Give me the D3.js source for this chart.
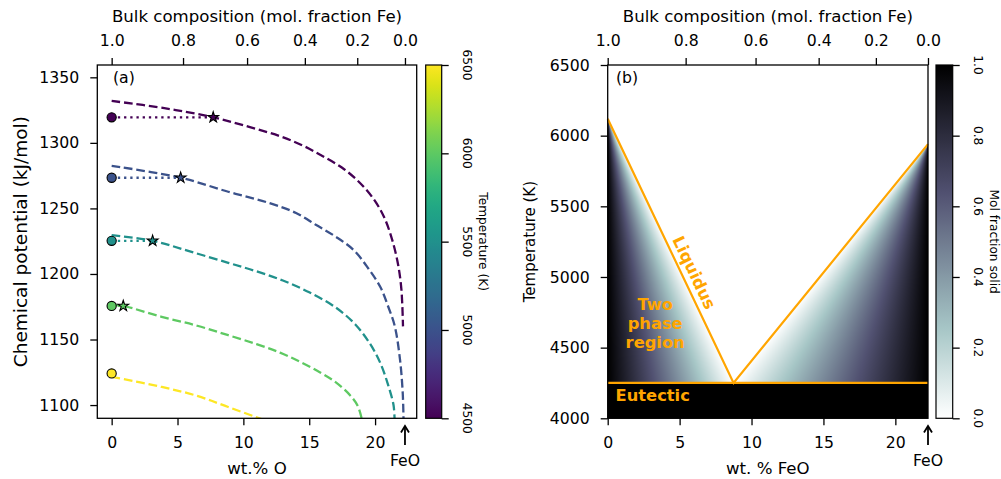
<!DOCTYPE html>
<html><head><meta charset="utf-8">
<script src="https://cdn.jsdelivr.net/npm/d3@7"></script>
<style>body{margin:0;background:#fff}svg{display:block;font-family:"DejaVu Sans",sans-serif}</style>
</head><body>
<svg id="c" width="1001" height="479"></svg>
<script>
// ---------------- data ----------------
const curveTemps = [4500, 5000, 5500, 6000, 6500];
const wtO_4500 = [0, 4, 7.71, 10.5, 12.8, 14.5, 16.0, 17.5, 18.8, 19.9, 20.7, 21.3, 21.75, 22.0, 22.12];
const mu_4500  = [1332, 1326.5, 1319.5, 1312, 1305, 1298, 1290, 1281, 1270, 1257, 1243, 1226, 1207, 1188, 1160];
const wtO_5000 = [0, 5.24, 8.85, 12.0, 14.0, 15.5, 17.0, 18.4, 19.5, 20.4, 21.0, 21.5, 21.9, 22.1, 22.16];
const mu_5000  = [1282.5, 1273.4, 1262.7, 1254, 1246.5, 1237.5, 1228.5, 1218, 1204, 1190, 1175, 1160, 1134, 1109, 1089];
const wtO_5500 = [0, 3.11, 6, 8.85, 11, 13, 15, 17, 18.5, 19.6, 20.4, 21.0, 21.4, 21.48];
const mu_5500  = [1229.6, 1225.3, 1217, 1208.5, 1202, 1195, 1186, 1174.5, 1161.5, 1147, 1132, 1115, 1100, 1089];
const wtO_6000 = [0, 0.88, 3.8, 6.5, 8.85, 11, 12.78, 14.3, 15.8, 17.0, 18.1, 18.7, 19.0];
const mu_6000  = [1176.5, 1175.6, 1167.3, 1160.5, 1153.3, 1146.5, 1140, 1133, 1125, 1117.5, 1107.5, 1099, 1089];
const wtO_6500 = [0, 3.8, 6.5, 8.85, 11.6];
const mu_6500  = [1121.5, 1113.8, 1107, 1098.5, 1088.5];
const startMu  = [1319.5, 1273.4, 1225.3, 1175.6, 1124.1];   // pure Fe (circles)
const starWtO  = [7.71, 5.24, 3.11, 0.88, null];
const starMu   = [1319.5, 1273.4, 1225.3, 1175.6, null];

const liquidusWt = [0, 8.75, 22.27];
const liquidusT  = [6120, 4250, 5940];
const eutecticT  = 4250;
const feoWt = 22.27;

const leftXTicks  = [0, 5, 10, 15, 20];
const leftYTicks  = [1100, 1150, 1200, 1250, 1300, 1350];
const topTicks    = [1.0, 0.8, 0.6, 0.4, 0.2, 0.0];
const rightXTicks = [0, 5, 10, 15, 20];
const rightYTicks = [4000, 4500, 5000, 5500, 6000, 6500];
const tempCbTicks = [4500, 5000, 5500, 6000, 6500];
const fracCbTicks = [0.0, 0.2, 0.4, 0.6, 0.8, 1.0];

// ---------------- helpers ----------------
const M_FE = 55.845, M_O = 15.999;
const wtOfromFe = f => 100 * (1 - f) * M_O / (f * M_FE + (1 - f) * (M_FE + M_O));
const tColor = d3.scaleSequential(d3.interpolateViridis).domain([4500, 6500]);
const boneR = d3.scaleLinear().domain([0, 0.746032, 1]).range([0, 0.652778, 1]);
const boneG = d3.scaleLinear().domain([0, 0.365079, 0.746032, 1]).range([0, 0.319444, 0.777778, 1]);
const boneB = d3.scaleLinear().domain([0, 0.365079, 1]).range([0, 0.444444, 1]);
const boneRev = f => [boneR(1 - f) * 255, boneG(1 - f) * 255, boneB(1 - f) * 255];

const svg = d3.select('#c');
const defs = svg.append('defs');
const TICK = 15.7, LAB = 16.6;

function styleAxis(g, fs) {
  g.select('.domain').remove();
  g.selectAll('.tick line').attr('stroke', '#000').attr('stroke-width', 1.3);
  g.selectAll('.tick text').attr('fill', '#000').style('font-size', fs + 'px')
    .style('font-family', '"DejaVu Sans", sans-serif');
}

// ================= LEFT PANEL =================
const L = {x0: 97.3, x1: 416.7, y0: 65, y1: 418.3};
const xA = d3.scaleLinear().domain([-1.09, 23.16]).range([L.x0, L.x1]);
const yA = d3.scaleLinear().domain([1089.9, 1359.4]).range([L.y1, L.y0]);

defs.append('clipPath').attr('id', 'clipA').append('rect')
  .attr('x', L.x0).attr('y', L.y0).attr('width', L.x1 - L.x0).attr('height', L.y1 - L.y0);

const gA = svg.append('g').attr('clip-path', 'url(#clipA)');
const curveWt = [wtO_4500, wtO_5000, wtO_5500, wtO_6000, wtO_6500];
const curveMu = [mu_4500, mu_5000, mu_5500, mu_6000, mu_6500];
const lineA = d3.line().x(d => xA(d[0])).y(d => yA(d[1]));
const smoothA = d3.line().x(d => xA(d[0])).y(d => yA(d[1])).curve(d3.curveCatmullRom.alpha(0.5));

curveTemps.forEach((T, k) => {
  const pts = curveWt[k].map((x, i) => [x, curveMu[k][i]]);
  gA.append('path').attr('d', smoothA(pts))
    .attr('fill', 'none').attr('stroke', tColor(T)).attr('stroke-width', 2.3)
    .attr('stroke-dasharray', '8.7,3.8');
});
curveTemps.forEach((T, k) => {
  if (starWtO[k] == null) return;
  gA.append('path').attr('d', lineA([[0, startMu[k]], [starWtO[k], starMu[k]]]))
    .attr('fill', 'none').attr('stroke', tColor(T)).attr('stroke-width', 2.3)
    .attr('stroke-dasharray', '2.3,3.9');
});
curveTemps.forEach((T, k) => {
  gA.append('circle').attr('cx', xA(0)).attr('cy', yA(startMu[k])).attr('r', 4.6)
    .attr('fill', tColor(T)).attr('stroke', '#000').attr('stroke-width', 1.1);
  if (starWtO[k] != null) {
    gA.append('path').attr('d', d3.symbol(d3.symbolStar, 36)())
      .attr('transform', `translate(${xA(starWtO[k])},${yA(starMu[k])})`)
      .attr('fill', tColor(T)).attr('stroke', '#000').attr('stroke-width', 1.1);
  }
});

svg.append('rect').attr('x', L.x0).attr('y', L.y0).attr('width', L.x1 - L.x0).attr('height', L.y1 - L.y0)
  .attr('fill', 'none').attr('stroke', '#000').attr('stroke-width', 1.3);

styleAxis(svg.append('g').attr('transform', `translate(0,${L.y1})`)
  .call(d3.axisBottom(xA).tickValues(leftXTicks).tickSize(7).tickPadding(12).tickFormat(d3.format('d'))), TICK);
styleAxis(svg.append('g').attr('transform', `translate(${L.x0},0)`)
  .call(d3.axisLeft(yA).tickValues(leftYTicks).tickSize(7).tickPadding(11).tickFormat(d3.format('d'))), TICK);
styleAxis(svg.append('g').attr('transform', `translate(0,${L.y0})`)
  .call(d3.axisTop(xA).tickValues(topTicks.map(wtOfromFe)).tickSize(7).tickPadding(12)
    .tickFormat((d, i) => topTicks[i].toFixed(1))), TICK);

svg.append('text').attr('x', (L.x0 + L.x1) / 2).attr('y', 16).attr('text-anchor', 'middle')
  .attr('dominant-baseline', 'central').style('font-size', LAB + 'px').text('Bulk composition (mol. fraction Fe)');
svg.append('text').attr('x', (L.x0 + L.x1) / 2).attr('y', 468).attr('text-anchor', 'middle')
  .attr('dominant-baseline', 'central').style('font-size', LAB + 'px').text('wt.% O');
svg.append('text').attr('transform', `translate(20,${(L.y0 + L.y1) / 2}) rotate(-90)`).attr('text-anchor', 'middle')
  .attr('dominant-baseline', 'central').style('font-size', '18.5px').text('Chemical potential (kJ/mol)');
svg.append('text').attr('x', 113).attr('y', 77.5).attr('dominant-baseline', 'central')
  .style('font-size', TICK + 'px').text('(a)');

function feoArrow(x) {
  svg.append('line').attr('x1', x).attr('x2', x).attr('y1', 445).attr('y2', 427)
    .attr('stroke', '#000').attr('stroke-width', 1.8);
  svg.append('path').attr('d', `M${x - 4},${432.5}L${x},${426}L${x + 4},${432.5}`)
    .attr('fill', 'none').attr('stroke', '#000').attr('stroke-width', 1.8);
  svg.append('text').attr('x', x).attr('y', 460.5).attr('text-anchor', 'middle')
    .attr('dominant-baseline', 'central').style('font-size', TICK + 'px').text('FeO');
}
feoArrow(xA(feoWt));

function colorbar(x0, x1, id, colorFn, ticks, dom, label) {
  const grad = defs.append('linearGradient').attr('id', id).attr('x1', 0).attr('y1', 1).attr('x2', 0).attr('y2', 0);
  d3.range(0, 1.0001, 0.02).forEach(t => grad.append('stop').attr('offset', t).attr('stop-color', colorFn(t)));
  svg.append('rect').attr('x', x0).attr('y', L.y0).attr('width', x1 - x0).attr('height', L.y1 - L.y0)
    .attr('fill', `url(#${id})`).attr('stroke', '#000').attr('stroke-width', 1.2);
  const s = d3.scaleLinear().domain(dom).range([L.y1, L.y0]);
  const g = svg.append('g').attr('transform', `translate(${x1},0)`)
    .call(d3.axisRight(s).tickValues(ticks).tickSize(7).tickFormat(''));
  styleAxis(g, 12);
  ticks.forEach(t => {
    svg.append('text').attr('transform', `translate(${x1 + 25.5},${s(t)}) rotate(90)`)
      .attr('text-anchor', 'middle').attr('dominant-baseline', 'central').style('font-size', '12.2px')
      .text(dom[1] > 10 ? d3.format('d')(t) : t.toFixed(1));
  });
  svg.append('text').attr('transform', `translate(${x1 + 41},${(L.y0 + L.y1) / 2}) rotate(90)`)
    .attr('text-anchor', 'middle').attr('dominant-baseline', 'central').style('font-size', '12.2px').text(label);
}
colorbar(425.7, 441.7, 'gradT', t => d3.interpolateViridis(t), tempCbTicks, [4500, 6500], 'Temperature (K)');

// ================= RIGHT PANEL =================
const R = {x0: 607.7, x1: 928.0, y0: 65, y1: 418.3};
const xB = d3.scaleLinear().domain([0, feoWt]).range([R.x0, R.x1]);
const yB = d3.scaleLinear().domain([4000, 6500]).range([R.y1, R.y0]);

const leftBranch  = d3.scaleLinear().domain([liquidusT[0], liquidusT[1]]).range([liquidusWt[0], liquidusWt[1]]);
const rightBranch = d3.scaleLinear().domain([liquidusT[1], liquidusT[2]]).range([liquidusWt[1], liquidusWt[2]]);
function fracSolid(wt, T) {
  if (T < eutecticT) return 1;
  if (wt <= liquidusWt[1]) {
    const xl = leftBranch(T);
    if (xl <= 0 || wt >= xl) return 0;
    return (xl - wt) / xl;
  } else {
    const xr = rightBranch(T);
    if (xr >= feoWt || wt <= xr) return 0;
    return (wt - xr) / (feoWt - xr);
  }
}
const cw = Math.round(R.x1 - R.x0), ch = Math.round(R.y1 - R.y0);
const canvas = document.createElement('canvas'); canvas.width = cw; canvas.height = ch;
const ctx = canvas.getContext('2d'); const img = ctx.createImageData(cw, ch);
for (let j = 0; j < ch; j++) {
  const T = yB.invert(R.y0 + (j + 0.5) * (R.y1 - R.y0) / ch);
  for (let i = 0; i < cw; i++) {
    const wt = xB.invert(R.x0 + (i + 0.5) * (R.x1 - R.x0) / cw);
    const c = boneRev(fracSolid(wt, T));
    const o = 4 * (j * cw + i);
    img.data[o] = c[0]; img.data[o + 1] = c[1]; img.data[o + 2] = c[2]; img.data[o + 3] = 255;
  }
}
ctx.putImageData(img, 0, 0);
svg.append('image').attr('href', canvas.toDataURL()).attr('x', R.x0).attr('y', R.y0)
  .attr('width', R.x1 - R.x0).attr('height', R.y1 - R.y0).attr('preserveAspectRatio', 'none');

const ORANGE = '#ffa500';
svg.append('path').attr('d', d3.line().x(d => xB(d[0])).y(d => yB(d[1]))(liquidusWt.map((w, i) => [w, liquidusT[i]])))
  .attr('fill', 'none').attr('stroke', ORANGE).attr('stroke-width', 2.2);
svg.append('path').attr('d', d3.line().x(d => xB(d[0])).y(d => yB(d[1]))([[0, eutecticT], [feoWt, eutecticT]]))
  .attr('fill', 'none').attr('stroke', ORANGE).attr('stroke-width', 2.2);

const ang = Math.atan2(yB(liquidusT[1]) - yB(liquidusT[0]), xB(liquidusWt[1]) - xB(liquidusWt[0])) * 180 / Math.PI;
svg.append('text').attr('transform', `translate(${xB(6.0)},${yB(5030)}) rotate(${ang})`)
  .attr('text-anchor', 'middle').attr('dominant-baseline', 'central')
  .style('font-size', '16.5px').style('font-weight', 'bold').attr('fill', ORANGE).text('Liquidus');
const tp = svg.append('text').attr('text-anchor', 'middle').style('font-size', '16.3px')
  .style('font-weight', 'bold').attr('fill', ORANGE);
['Two', 'phase', 'region'].forEach((s, i) => {
  tp.append('tspan').attr('x', xB(3.3)).attr('y', yB(4670) + (i - 1) * 18.7).attr('dominant-baseline', 'central').text(s);
});
svg.append('text').attr('x', xB(0.55)).attr('y', yB(4160)).attr('dominant-baseline', 'central')
  .style('font-size', '16.3px').style('font-weight', 'bold').attr('fill', ORANGE).text('Eutectic');

svg.append('rect').attr('x', R.x0).attr('y', R.y0).attr('width', R.x1 - R.x0).attr('height', R.y1 - R.y0)
  .attr('fill', 'none').attr('stroke', '#000').attr('stroke-width', 1.3);

styleAxis(svg.append('g').attr('transform', `translate(0,${R.y1})`)
  .call(d3.axisBottom(xB).tickValues(rightXTicks).tickSize(7).tickPadding(12).tickFormat(d3.format('d'))), TICK);
styleAxis(svg.append('g').attr('transform', `translate(${R.x0},0)`)
  .call(d3.axisLeft(yB).tickValues(rightYTicks).tickSize(7).tickPadding(11).tickFormat(d3.format('d'))), TICK);
styleAxis(svg.append('g').attr('transform', `translate(0,${R.y0})`)
  .call(d3.axisTop(xB).tickValues(topTicks.map(wtOfromFe)).tickSize(7).tickPadding(12)
    .tickFormat((d, i) => topTicks[i].toFixed(1))), TICK);

svg.append('text').attr('x', (R.x0 + R.x1) / 2).attr('y', 16).attr('text-anchor', 'middle')
  .attr('dominant-baseline', 'central').style('font-size', LAB + 'px').text('Bulk composition (mol. fraction Fe)');
svg.append('text').attr('x', (R.x0 + R.x1) / 2).attr('y', 468).attr('text-anchor', 'middle')
  .attr('dominant-baseline', 'central').style('font-size', LAB + 'px').text('wt. % FeO');
svg.append('text').attr('transform', `translate(530,${(R.y0 + R.y1) / 2}) rotate(-90)`).attr('text-anchor', 'middle')
  .attr('dominant-baseline', 'central').style('font-size', '15px').text('Temperature (K)');
svg.append('text').attr('x', 616).attr('y', 77.5).attr('dominant-baseline', 'central')
  .style('font-size', TICK + 'px').text('(b)');
feoArrow(xB(feoWt));

colorbar(936, 952.7, 'gradF', t => d3.rgb(...boneRev(t)).toString(), fracCbTicks, [0, 1], 'Mol fraction solid');
</script>
</body></html>
